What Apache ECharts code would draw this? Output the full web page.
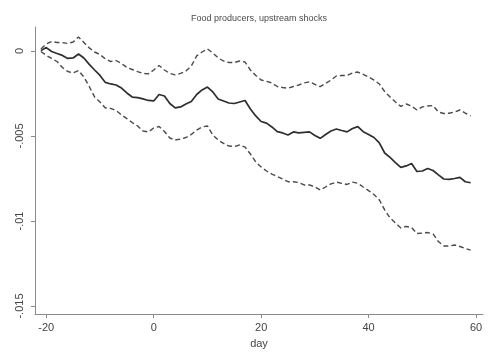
<!DOCTYPE html>
<html>
<head>
<meta charset="utf-8">
<script src="https://cdn.jsdelivr.net/npm/echarts@6/dist/echarts.min.js"></script>
<style>
html,body{margin:0;padding:0;background:#fff;}
#chart{width:490px;height:354px;}
</style>
</head>
<body>
<div id="chart"></div>
<script>
const days = [];
for (let d = -21; d <= 59; d++) days.push(d);

const estimate = [
  0.00002, 0.0002, -0.00003, -0.00015, -0.00026, -0.00044, -0.00041, -0.00018, -0.00041, -0.00079,
  -0.00112, -0.00144, -0.00185, -0.00194, -0.0020, -0.00218, -0.00247, -0.00271, -0.00274, -0.00282,
  -0.00291, -0.00294, -0.00256, -0.00265, -0.00309, -0.00335, -0.00329, -0.00312, -0.00297, -0.00256,
  -0.00229, -0.00212, -0.00241, -0.00282, -0.00294, -0.00306, -0.00309, -0.0030, -0.00291, -0.00341,
  -0.00382, -0.00415, -0.00424, -0.00447, -0.00474, -0.00482, -0.00494, -0.00476, -0.00482, -0.00479,
  -0.00476, -0.00497, -0.00514, -0.00491, -0.00471, -0.00459, -0.00468, -0.00476, -0.00456, -0.00445,
  -0.00475, -0.00491, -0.00509, -0.00541, -0.0060, -0.00626, -0.00656, -0.00685, -0.00676, -0.00662,
  -0.00709, -0.00706, -0.00691, -0.00703, -0.00729, -0.00753, -0.00755, -0.0075, -0.00743, -0.00769,
  -0.00775
];

const upper = [
  0.00012, 0.00041, 0.00055, 0.0005, 0.00049, 0.00044, 0.00053, 0.00082, 0.0005, 0.00018,
  -0.00006, -0.00021, -0.00047, -0.00062, -0.00056, -0.00074, -0.00097, -0.00109, -0.00121, -0.00132,
  -0.00135, -0.00112, -0.00085, -0.00112, -0.00132, -0.00141, -0.00132, -0.00118, -0.00088, -0.00029,
  -0.00006, 0.00012, -0.00012, -0.00041, -0.00059, -0.00068, -0.00068, -0.00059, -0.00065, -0.00112,
  -0.00144, -0.00171, -0.00179, -0.00188, -0.00209, -0.00215, -0.00219, -0.00209, -0.0020, -0.00188,
  -0.00181, -0.00197, -0.0021, -0.00191, -0.00171, -0.00147, -0.00144, -0.00144, -0.00129, -0.00124,
  -0.00138, -0.00153, -0.00171, -0.00194, -0.00239, -0.00271, -0.0030, -0.00326, -0.00312, -0.00324,
  -0.00347, -0.00329, -0.00324, -0.00321, -0.00359, -0.00368, -0.00366, -0.00359, -0.00347, -0.00365,
  -0.00382
];

const lower = [
  -0.00003, -0.00026, -0.00044, -0.00062, -0.00097, -0.00121, -0.00129, -0.00115, -0.00153, -0.00209,
  -0.00271, -0.0030, -0.00335, -0.00338, -0.0035, -0.00376, -0.00398, -0.00421, -0.00441, -0.00471,
  -0.00476, -0.00453, -0.00444, -0.00474, -0.00512, -0.00524, -0.00518, -0.00509, -0.00491, -0.00465,
  -0.00447, -0.00441, -0.00494, -0.00524, -0.00544, -0.00559, -0.00562, -0.00553, -0.00565, -0.00606,
  -0.00653, -0.00682, -0.00706, -0.00724, -0.00738, -0.00753, -0.00769, -0.00769, -0.00774, -0.00788,
  -0.00788, -0.0080, -0.00818, -0.0080, -0.00782, -0.00771, -0.00779, -0.00785, -0.00771, -0.00778,
  -0.0080, -0.00821, -0.00844, -0.00876, -0.00935, -0.00982, -0.01012, -0.01041, -0.01032, -0.01038,
  -0.01074, -0.01071, -0.01068, -0.01076, -0.01121, -0.01147, -0.01147, -0.01141, -0.0115, -0.01162,
  -0.01171
];

const xTicks = [-20, 0, 20, 40, 60];
const yTicks = [0, -0.005, -0.01, -0.015];
const yTickLabels = ['0', '-.005', '-.01', '-.015'];
const titleText = 'Food producers, upstream shocks';
const xName = 'day';

function pairs(vals) { return days.map((d, i) => [d, vals[i]]); }

const chart = echarts.init(document.getElementById('chart'), null, {renderer: 'canvas'});
const axisColor = '#8a8a8a';
const textColor = '#444';
const font = 'Liberation Sans, Arial, sans-serif';

chart.setOption({
  backgroundColor: '#ffffff',
  animation: false,
  grid: {left: 35, right: 7, top: 27, bottom: 40, containLabel: false},
  graphic: [{
    type: 'text', x: 259, y: 19,
    style: {text: titleText, fill: '#4a4a4a', font: '9px ' + font, textAlign: 'center', textVerticalAlign: 'middle'}
  }],
  xAxis: {
    type: 'value', min: -22.1, max: 61.3,
    name: xName, nameLocation: 'middle', nameGap: 24,
    nameTextStyle: {color: textColor, fontSize: 11, fontFamily: font},
    axisLine: {show: true, onZero: false, lineStyle: {color: axisColor, width: 1}},
    axisTick: {show: true, customValues: xTicks, length: 4, lineStyle: {color: axisColor}},
    axisLabel: {customValues: xTicks, color: textColor, fontSize: 11, fontFamily: font, margin: 8},
    splitLine: {show: false}
  },
  yAxis: {
    type: 'value', min: -0.01547, max: 0.00141,
    axisLine: {show: true, onZero: false, lineStyle: {color: axisColor, width: 1}},
    axisTick: {show: true, customValues: yTicks, length: 4, lineStyle: {color: axisColor}},
    axisLabel: {
      customValues: yTicks, color: textColor, fontSize: 11, fontFamily: font, margin: 10, rotate: 90,
      formatter: function (v) {
        const i = yTicks.findIndex(t => Math.abs(t - v) < 1e-9);
        return i >= 0 ? yTickLabels[i] : '';
      }
    },
    splitLine: {show: false}
  },
  series: [
    {type: 'line', data: pairs(upper), symbol: 'none', smooth: false,
     lineStyle: {color: '#4a4a4a', width: 1.4, type: [5, 3]}},
    {type: 'line', data: pairs(estimate), symbol: 'none', smooth: false,
     lineStyle: {color: '#2e2e2e', width: 1.7}},
    {type: 'line', data: pairs(lower), symbol: 'none', smooth: false,
     lineStyle: {color: '#4a4a4a', width: 1.4, type: [5, 3]}}
  ]
});
</script>
</body>
</html>
